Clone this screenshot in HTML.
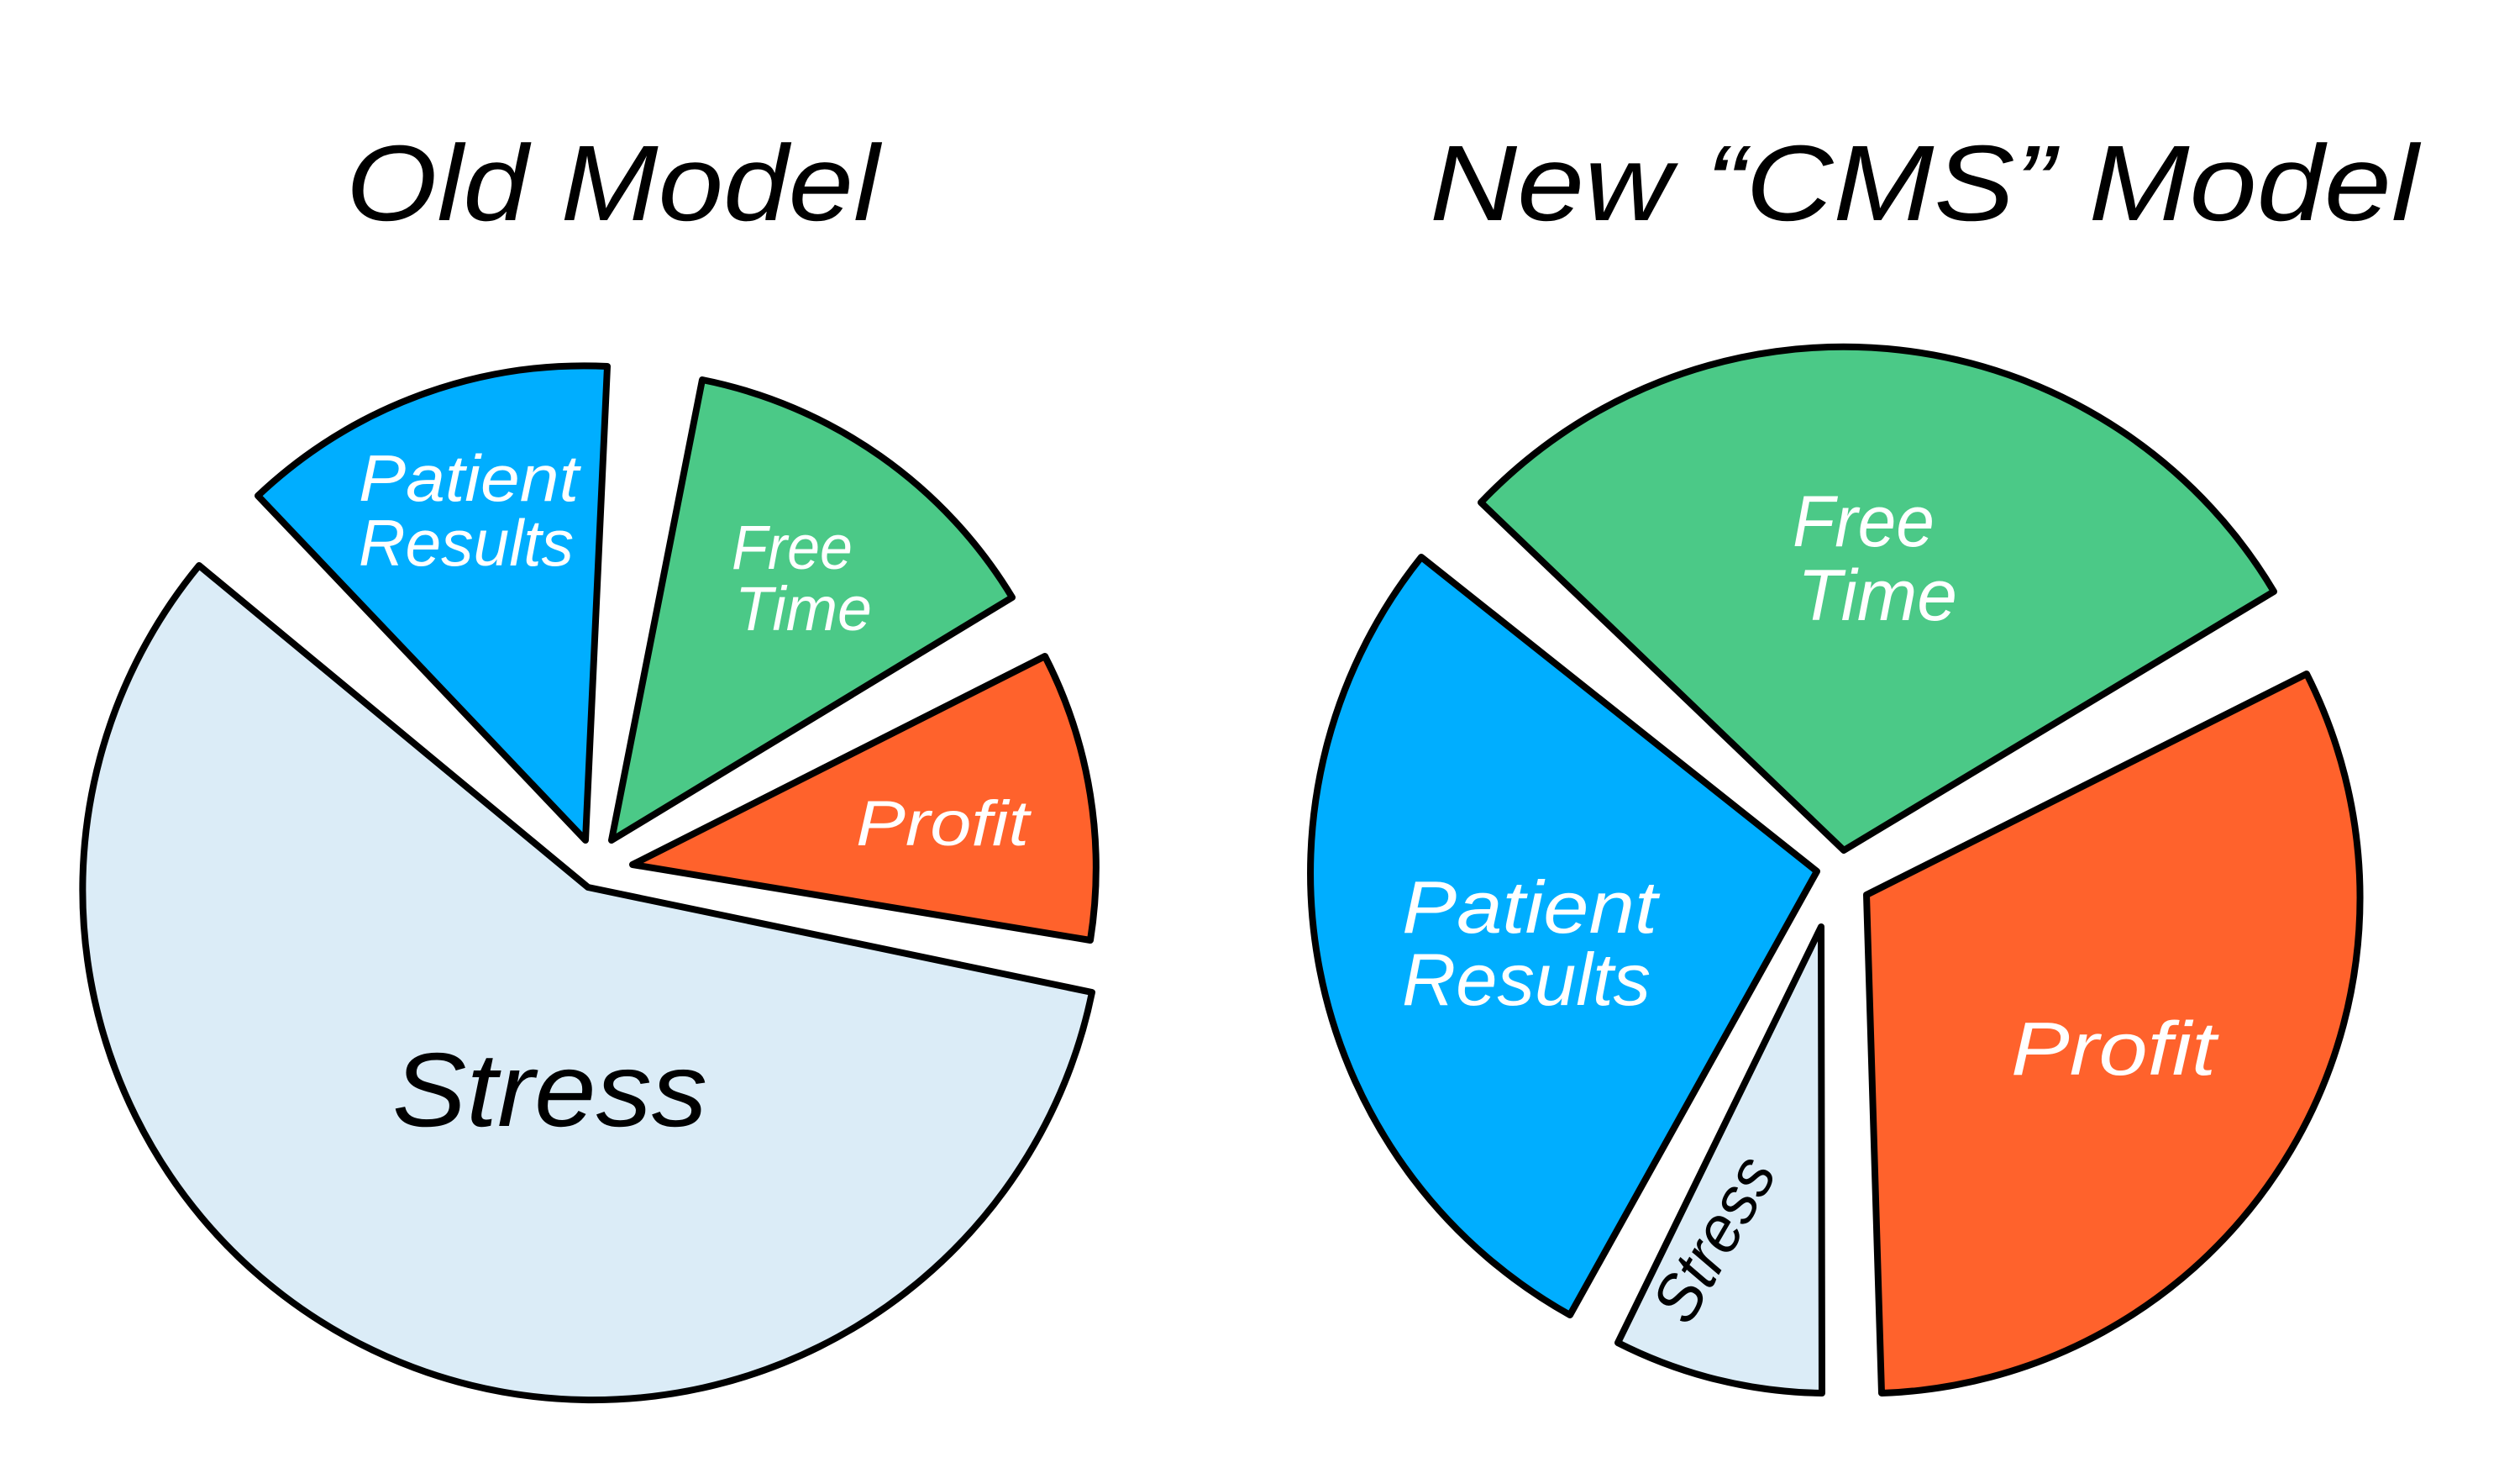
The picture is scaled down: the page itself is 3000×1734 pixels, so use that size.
<!DOCTYPE html>
<html><head><meta charset="utf-8"><style>
html,body{margin:0;padding:0;background:#fff;}
svg{display:block;}
text{font-family:"Liberation Sans","DejaVu Sans",sans-serif;font-style:italic;}
</style></head><body>
<svg width="3000" height="1734" viewBox="0 0 3000 1734" xmlns="http://www.w3.org/2000/svg">
<rect width="3000" height="1734" fill="#fff"/>
<g stroke="#000" stroke-width="8" stroke-linejoin="round">
<!-- Old model -->
<path d="M700 1056 L1300 1181 A607 607 0 1 1 237 673 Z" fill="#dbecf7"/>
<path d="M697 1000 L307 590 A566 566 0 0 1 723 436 Z" fill="#00aeff"/>
<path d="M728 1000 L836 452 A559 559 0 0 1 1205 711 Z" fill="#4bc987"/>
<path d="M753 1029 L1244 781 A551 551 0 0 1 1298 1119 Z" fill="#ff622c"/>
<!-- New model -->
<path d="M2195 1012 L1763 598 A596 596 0 0 1 2707 704 Z" fill="#4bc987"/>
<path d="M2163 1037 L1869 1565 A602 602 0 0 1 1692 663 Z" fill="#00aeff"/>
<path d="M2168 1103 L2169 1658 A553 553 0 0 1 1926 1598 Z" fill="#dbecf7"/>
<path d="M2222 1065 L2746 802 A590 590 0 0 1 2240 1658 Z" fill="#ff622c"/>
</g>
<g fill="#000">
<text x="412" y="262" font-size="128" textLength="635" lengthAdjust="spacingAndGlyphs">Old Model</text>
<text x="1702" y="262" font-size="128" textLength="1177" lengthAdjust="spacingAndGlyphs">New “CMS” Model</text>
<text x="467" y="1340" font-size="125" textLength="375" lengthAdjust="spacingAndGlyphs">Stress</text>
<text x="0" y="0" font-size="78" textLength="213" lengthAdjust="spacingAndGlyphs" transform="translate(2010 1580) rotate(-60)">Stress</text>
</g>
<g fill="#fff">
<text x="427" y="596" font-size="78" textLength="262" lengthAdjust="spacingAndGlyphs">Patient</text>
<text x="427" y="673" font-size="78" textLength="256" lengthAdjust="spacingAndGlyphs">Results</text>
<text x="871" y="677" font-size="74" textLength="144" lengthAdjust="spacingAndGlyphs">Free</text>
<text x="875" y="750" font-size="74" textLength="163" lengthAdjust="spacingAndGlyphs">Time</text>
<text x="1019" y="1006" font-size="76" textLength="206" lengthAdjust="spacingAndGlyphs">Profit</text>
<text x="2134" y="650" font-size="86" textLength="169" lengthAdjust="spacingAndGlyphs">Free</text>
<text x="2140" y="738" font-size="86" textLength="190" lengthAdjust="spacingAndGlyphs">Time</text>
<text x="1669" y="1110" font-size="88" textLength="304" lengthAdjust="spacingAndGlyphs">Patient</text>
<text x="1669" y="1196" font-size="88" textLength="296" lengthAdjust="spacingAndGlyphs">Results</text>
<text x="2394" y="1279" font-size="90" textLength="244" lengthAdjust="spacingAndGlyphs">Profit</text>
</g>
</svg>
</body></html>
